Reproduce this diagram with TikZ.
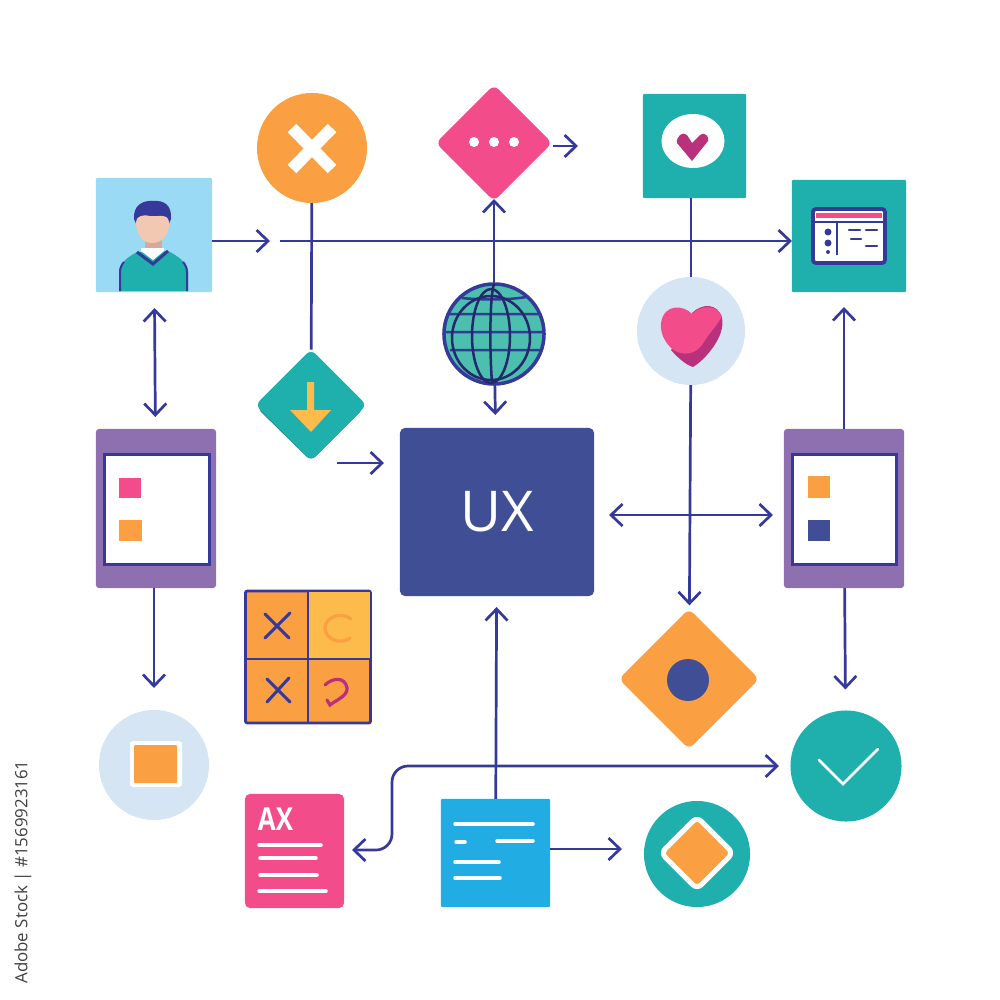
\documentclass[tikz,border=0pt]{standalone}
\usepackage{fontspec}
\setmainfont{Open Sans}
\usetikzlibrary{arrows.meta,shapes.geometric}
\definecolor{linenavy}{HTML}{35399A}
\definecolor{boxnavy}{HTML}{404F95}
\definecolor{tileteal}{HTML}{1FB0AE}
\definecolor{darkteal}{HTML}{17808F}
\definecolor{globeteal}{HTML}{4CBFAE}
\definecolor{warmorange}{HTML}{FBA042}
\definecolor{warmyellow}{HTML}{FDBB4B}
\definecolor{hotpink}{HTML}{F24D8A}
\definecolor{deeppink}{HTML}{B9317A}
\definecolor{palecircle}{HTML}{D5E5F4}
\definecolor{tabletpurple}{HTML}{8E6FB0}
\definecolor{skytile}{HTML}{9BDAF5}
\definecolor{doccyan}{HTML}{22ACE4}
\definecolor{skinface}{HTML}{F2C8B3}
\definecolor{skinneck}{HTML}{D4AA9A}
\begin{document}
\begin{tikzpicture}[x=0.01cm,y=-0.01cm,>={Straight Barb[length=1.15mm,width=2.2mm]}]
    \useasboundingbox (0,0) rectangle (1000,1000);
    \tikzstyle{tile} = [rectangle, inner sep=0, outer sep=0, rounded corners=0.01cm]
    \tikzstyle{disc} = [circle, inner sep=0, outer sep=0]
    \tikzstyle{gem} = [diamond, inner sep=0, outer sep=0, rounded corners=0.06cm]
    \tikzstyle{link} = [draw=linenavy, line width=0.27mm]
    \tikzstyle{stroke} = [line width=0.35mm, line cap=round, draw=white]

    % top row
    \node (user) [tile, fill=skytile, minimum width=1.16cm, minimum height=1.14cm] at (154,235) {};
    \node (cross) [disc, fill=warmorange, minimum size=1.10cm] at (312,148) {};
    \node (dots) [gem, fill=hotpink, minimum width=1.16cm, minimum height=1.16cm] at (494,143) {};
    \node (lovetile) [tile, fill=tileteal, minimum width=1.03cm, minimum height=1.04cm] at (694.5,146) {};
    \node (screen) [tile, fill=tileteal, minimum width=1.14cm, minimum height=1.12cm] at (849,236) {};

    % second row
    \fill [darkteal, rounded corners=0.06cm] (311,355) -- (364,408) -- (311,461) -- (257,408) -- cycle;
    \node (drop) [gem, fill=tileteal, minimum width=1.11cm, minimum height=1.11cm] at (311,405) {};
    \node (globe) [disc, fill=globeteal, draw=linenavy, line width=0.35mm, minimum size=1.00cm] at (494,334) {};
    \node (love) [disc, fill=palecircle, minimum size=1.08cm] at (691,331) {};

    % middle row
    \node (listleft) [tile, fill=tabletpurple, rounded corners=0.03cm, minimum width=1.20cm, minimum height=1.59cm] at (156,508.5) {};
    \node (ux) [tile, fill=boxnavy, rounded corners=0.05cm, minimum width=1.94cm, minimum height=1.68cm, text=white, font=\fontsize{16}{18}\selectfont] at (497,512) {UX};
    \node (listright) [tile, fill=tabletpurple, rounded corners=0.03cm, minimum width=1.20cm, minimum height=1.59cm] at (844,508.5) {};
    \node (grid) [tile, fill=warmorange, draw=linenavy, line width=0.28mm, rounded corners=0.02cm, minimum width=1.25cm, minimum height=1.32cm] at (308,657) {};
    \node (target) [gem, fill=warmorange, minimum width=1.40cm, minimum height=1.40cm] at (689,679) {};

    % bottom row
    \node (stamp) [disc, fill=palecircle, minimum size=1.10cm] at (154,765) {};
    \node (done) [disc, fill=tileteal, minimum size=1.11cm] at (846,766) {};
    \node (axdoc) [tile, fill=hotpink, rounded corners=0.05cm, minimum width=0.99cm, minimum height=1.14cm] at (294.5,851) {};
    \node (note) [tile, fill=doccyan, minimum width=1.09cm, minimum height=1.08cm] at (495.5,853) {};
    \node (badge) [disc, fill=tileteal, minimum size=1.06cm] at (697,854) {};

    % free ends of the connectors
    \coordinate (toprow) at (500,241);
    \coordinate (usertip) at (270,241);
    \coordinate (longstart) at (280,241);
    \coordinate (dotsout) at (553,146);
    \coordinate (dotstip) at (578,146);
    \coordinate (dropout) at (337,463);
    \coordinate (droptip) at (384,463);
    \coordinate (midrow) at (700,515);
    \coordinate (noterow) at (600,849);
    \coordinate (axtip) at (352,850);
    \coordinate (bend) at (392,766);
    \coordinate (donetip) at (779,766);

    % connectors
    \draw [link, ->] (user.east |- toprow) -- (usertip);
    \draw [link, ->] (longstart) -- (screen.west |- toprow);
    \draw [link] (cross) -- (drop);
    \draw [link, ->, shorten >=-0.02cm] (globe) -- (dots);
    \draw [link, ->] (dotsout) -- (dotstip);
    \draw [link] (lovetile.south -| love) -- (love);
    \draw [link, ->, shorten >=0.13cm] (globe) -- (ux);
    \draw [link, ->, shorten >=0.04cm] (love) -- (target);
    \draw [link, <->, shorten <=0.16cm, shorten >=0.12cm] (user) -- (listleft);
    \draw [link, ->, shorten >=0.15cm] (listright) -- (screen.south -| listright);
    \draw [link, ->] (dropout) -- (droptip);
    \draw [link, <->, shorten <=0.15cm, shorten >=0.11cm] (ux.east |- midrow) -- (listright.west |- midrow);
    \draw [link, ->, shorten >=0.22cm] (listleft.south -| stamp) -- (stamp);
    \draw [link, ->, shorten >=0.21cm] (listright) -- (done);
    \draw [link, ->, shorten >=0.11cm] (note) -- (ux);
    \draw [link, ->, shorten >=0.22cm] (note.east |- noterow) -- (badge.west |- noterow);
    \draw [link, <->, rounded corners=0.16cm] (axtip) -| (bend) -- (donetip);

    % person
    \fill [tileteal] (119,291) -- (119,270) .. controls (121,262) and (128,257) .. (137,252) -- (168,251) .. controls (178,256) and (186,262) .. (188,270) -- (188,291) -- cycle;
    \draw [linenavy, line width=0.2mm] (120,291) -- (120,272) .. controls (120,268) and (122,264) .. (124,262) (187,291) -- (187,272) .. controls (187,268) and (185,264) .. (183,262);
    \fill [skinneck] (145,238) rectangle (162,249);
    \fill [white] (141,248) -- (164,248) -- (164,251) -- (153,260) -- (141,251) -- cycle;
    \draw [linenavy, line width=0.3mm] (137,252) -- (153,264) -- (168,251);
    \fill [linenavy] (134,219) .. controls (133,206) and (142,200) .. (153,201) .. controls (164,200) and (172,205) .. (171,219) -- (168,226) -- (137,226) -- cycle;
    \fill [skinface] (136,222) .. controls (136,216) and (144,214) .. (150,216) .. controls (158,217) and (168,213) .. (169,222) .. controls (170,235) and (162,243) .. (152,243) .. controls (143,243) and (136,235) .. (136,222) -- cycle;

    % cross mark
    \draw [line width=0.12cm, white] (292,128) -- (332,169);
    \draw [line width=0.12cm, white] (332,128) -- (292,169);

    % three dots
    \fill [white] (474,142) circle (5) (494,142) circle (5) (514,142) circle (5);

    % heart on the tile
    \fill [white] (693,141) ellipse (31.5 and 27);
    \fill [deeppink] (692,161) -- (677,143) .. controls (676,136) and (683,131) .. (687,135) -- (692,143) -- (700,135) .. controls (704,131) and (710,137) .. (708,141) -- cycle;

    % window on the screen tile
    \draw [fill=white, draw=linenavy, line width=0.38mm, rounded corners=0.03cm] (813,209) rectangle (885,263);
    \fill [hotpink] (816,213) rectangle (882,218);
    \draw [linenavy, line width=0.25mm] (813,222) -- (885,222);
    \draw [linenavy, line width=0.28mm] (837,222) -- (837,255);
    \fill [linenavy] (828,232) circle (3.5) (828,243) circle (3.5) (828,252) circle (2);
    \draw [linenavy, line width=0.22mm, line cap=round] (849,230) -- (860,230) (866,230) -- (877,230) (851,239) -- (861,239) (866,246) -- (877,246);

    % globe lines
    \draw [linenavy, line width=0.25mm] (462,298) .. controls (480,300) and (510,300) .. (526,297) (449,314) -- (540,314) (444,332) -- (545,332) (450,350) -- (540,350);
    \draw [linenavy!70!black, line width=0.25mm] (494,284) .. controls (489,300) and (490,360) .. (492,382);
    \draw [linenavy!70!black, line width=0.25mm] (491,336) ellipse (19 and 47);
    \draw [linenavy!70!black, line width=0.25mm] (491,338) ellipse (39 and 42);

    % down arrow in the green diamond
    \fill [warmyellow] (307,382) -- (314,382) -- (314,410) -- (331,410) -- (311,432) -- (290,410) -- (307,410) -- cycle;

    % heart in the pale circle
    \fill [deeppink] (692,313) .. controls (702,303) and (718,303) .. (722,318) .. controls (726,336) and (705,360) .. (693,367) .. controls (686,365) and (678,358) .. (671,350) -- (690,330) -- cycle;
    \fill [hotpink] (692,314) .. controls (684,305) and (664,303) .. (661,323) .. controls (660,335) and (666,343) .. (672,349) .. controls (682,356) and (696,356) .. (704,342) .. controls (710,332) and (717,326) .. (722,316) .. controls (716,304) and (700,305) .. (692,314) -- cycle;

    % left tablet
    \draw [fill=white, draw=linenavy, line width=0.3mm] (104,454) rectangle (209,564);
    \fill [hotpink] (119,478) rectangle (141,498);
    \fill [warmorange] (119,520) rectangle (142,541);

    % right tablet
    \draw [fill=white, draw=linenavy, line width=0.3mm] (792,454) rectangle (896,564);
    \fill [warmorange] (808,476) rectangle (830,498);
    \fill [boxnavy] (808,520) rectangle (830,541);

    % grid cells
    \fill [warmyellow] (308,592) rectangle (370,659);
    \draw [linenavy, line width=0.28mm] (308,591) -- (308,723) (245,659) -- (371,659);
    \draw [linenavy, line width=0.3mm, line cap=round] (265,614) -- (289,638) (290,613) -- (265,638) (267,679) -- (290,702) (289,678) -- (267,702);
    \draw [warmorange, line width=0.32mm, line cap=round] (351,619) .. controls (342,611) and (325,617) .. (325,628) .. controls (325,640) and (342,645) .. (350,638);
    \draw [deeppink, line width=0.32mm, line cap=round] (325,685) .. controls (332,678) and (345,676) .. (347,688) .. controls (348,696) and (336,700) .. (330,705) -- (327,700);

    % target dot
    \fill [boxnavy] (688,680) circle (21);

    % square in the pale circle
    \fill [white, rounded corners=0.03cm] (130,741) rectangle (182,787);
    \fill [warmorange, rounded corners=0.01cm] (134,745) rectangle (177,783);

    % check mark
    \draw [stroke, line width=0.27mm] (819,760) -- (843,784) -- (878,749);

    % text lines of the two documents
    \node (axlabel) [text=white, font=\fontsize{9}{10}\bfseries\selectfont, inner sep=0, xscale=0.82] at (275.5,819) {AX};
    \draw [stroke] (259,845) -- (321,845) (260,858) -- (316,858) (260,875) -- (317,875) (259,891) -- (326,891);
    \draw [stroke] (455,824) -- (533,824) (456,842) -- (465,842) (497,841) -- (533,841) (455,862) -- (499,862) (455,878) -- (500,878);

    % diamond in the badge
    \node (badgegem) [gem, fill=warmorange, draw=white, line width=0.05cm, minimum width=0.72cm, minimum height=0.72cm] at (697,853) {};

    % stock line in the margin
    \node (stockid) [rotate=90, text=black!75, font=\fontsize{4.8}{6}\selectfont, inner sep=0] at (23,872) {Adobe Stock | \#1569923161};
\end{tikzpicture}
\end{document}
